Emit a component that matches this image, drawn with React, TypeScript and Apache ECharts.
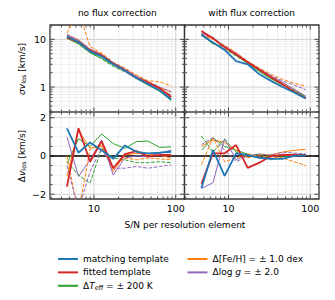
import React, { useEffect, useRef } from 'react';
import * as echarts from 'echarts';

// S/N per resolution element (x positions of samples)
const SN = [4.67, 6.47, 8.97, 12.4, 17.2, 23.9, 33.1, 45.8, 63.5, 88.0];

// sigma v_los, no flux correction
const sigNoMatch = [11.5, 8.8, 5.6, 4.4, 3.0, 2.2, 1.55, 1.15, 0.85, 0.55];
const sigNoFitted = [11.0, 8.7, 5.8, 4.6, 3.1, 2.2, 1.55, 1.25, 0.95, 0.62];
const sigNoTeffP = [10.5, 8.0, 5.2, 4.0, 2.9, 2.2, 1.5, 1.1, 0.82, 0.52];
const sigNoTeffM = [11.2, 8.4, 5.5, 3.9, 2.7, 2.1, 1.55, 1.15, 0.85, 0.6];
const sigNoFehP = [12.5, 9.8, 6.2, 4.9, 3.2, 2.4, 1.7, 1.3, 0.98, 0.78];
const sigNoFehM = [13.5, 40.0, 7.0, 5.2, 3.3, 2.5, 1.8, 1.35, 1.3, 1.05];
const sigNoLoggP = [12.0, 9.3, 6.0, 4.7, 3.2, 2.3, 1.6, 1.25, 0.9, 0.68];
const sigNoLoggM = [12.8, 9.6, 6.3, 4.8, 3.3, 2.4, 1.7, 1.3, 1.0, 0.8];

// sigma v_los, with flux correction
const sigWfMatch = [12.3, 8.6, 6.0, 3.5, 3.0, 1.85, 1.35, 1.0, 0.77, 0.58];
const sigWfFitted = [15.0, 10.5, 6.8, 4.8, 3.3, 2.3, 1.6, 1.15, 0.8, 0.58];
const sigWfTeffP = [12.5, 8.0, 7.0, 4.6, 3.1, 2.1, 1.5, 1.1, 0.82, 0.6];
const sigWfTeffM = [13.0, 8.6, 6.3, 4.5, 3.2, 2.2, 1.55, 1.15, 0.85, 0.62];
const sigWfFehP = [12.5, 10.5, 7.2, 5.0, 3.4, 2.4, 1.7, 1.25, 0.9, 0.62];
const sigWfFehM = [12.0, 10.0, 7.5, 5.3, 3.5, 2.5, 1.85, 1.45, 1.2, 1.05];
const sigWfLoggP = [13.5, 11.0, 7.0, 4.9, 3.3, 2.3, 1.65, 1.25, 0.9, 0.65];
const sigWfLoggM = [12.8, 10.8, 7.2, 5.1, 3.4, 2.4, 1.75, 1.35, 1.1, 0.88];

// delta v_los, no flux correction
const dvNoMatch = [1.44, 0.17, 0.71, 0.3, -0.15, 0.55, 0.22, 0.14, 0.17, 0.22];
const dvNoFitted = [-1.6, 1.45, -0.3, 0.78, -0.64, 0.1, 0.26, -0.03, 0.05, 0.05];
const dvNoTeffP = [-0.4, 0.9, 0.5, 1.15, 0.65, 0.4, 0.75, 0.78, 0.45, 0.48];
const dvNoTeffM = [-0.3, -1.0, -1.42, 0.4, -0.1, -0.2, -0.35, -0.35, -0.3, -0.35];
const dvNoFehP = [-1.07, 1.35, 0.4, 0.57, -0.81, 0.05, 0.14, 0.1, 0.05, -0.12];
const dvNoFehM = [0.0, -3.0, 0.4, 0.5, -0.6, -0.1, -0.2, -0.1, -0.15, -0.2];
const dvNoLoggP = [1.0, -1.07, -0.2, 0.83, -1.0, -0.1, 0.0, -0.03, 0.14, 0.31];
const dvNoLoggM = [-0.5, -2.8, -0.8, 0.4, -0.64, -0.64, -0.55, -0.64, -0.55, -0.47];

// delta v_los, with flux correction
const dvWfMatch = [-1.68, 0.31, -1.04, 0.14, 0.05, -0.1, -0.15, -0.15, 0.0, 0.05];
const dvWfFitted = [-1.45, 0.14, 0.14, 0.57, -0.62, -0.35, 0.0, 0.05, 0.05, 0.05];
const dvWfTeffP = [0.3, 0.95, 0.5, 0.3, 0.1, -0.1, 0.05, 0.0, 0.1, 0.05];
const dvWfTeffM = [1.05, 0.2, 0.88, 0.2, 0.0, 0.1, -0.2, -0.05, 0.0, 0.1];
const dvWfFehP = [0.5, 0.85, 0.7, 0.3, -0.1, 0.1, 0.05, 0.2, 0.3, 0.35];
const dvWfFehM = [-0.45, 0.95, -0.3, -0.1, 0.1, 0.0, -0.05, -0.1, -0.3, -0.5];
const dvWfLoggP = [-1.7, -1.4, 0.9, -0.2, 0.1, -0.1, -0.05, 0.1, 0.0, 0.1];
const dvWfLoggM = [0.6, 0.95, 0.3, -0.3, 0.0, 0.1, 0.05, 0.2, 0.15, 0.1];

// ticks
const xMajor = [10, 100];
const xMinor = [3, 4, 5, 6, 7, 8, 9, 20, 30, 40, 50, 60, 70, 80, 90];
const sigMajor = [1, 10];
const sigMinor = [0.3, 0.4, 0.5, 0.6, 0.7, 0.8, 0.9, 2, 3, 4, 5, 6, 7, 8, 9];
const dvMajor = [-2, 0, 2];
const dvMinor = [-1.5, -1, -0.5, 0.5, 1, 1.5];

const NAMES = ['matching template', 'fitted template', 'dTeff', 'dFeH', 'dlogg'];
const COLORS = ['#1f77b4', '#d62728', '#2ca02c', '#ff7f0e', '#9467bd'];

const FONT = 'DejaVu Sans';

const fmt = (v: number) => (v < 0 ? '\u2212' + Math.abs(v) : String(v));

function lineSeries(name: string, gi: number, vals: number[], color: string, width: number, dashed: boolean, z: number) {
  return {
    type: 'line',
    name,
    xAxisIndex: gi,
    yAxisIndex: gi,
    data: SN.map((x, i) => [x, vals[i]]),
    symbol: 'none',
    showSymbol: false,
    z,
    clip: true,
    lineStyle: { color, width, type: dashed ? [3.7, 1.6] : 'solid' },
    itemStyle: { color },
  };
}

function axisSeries(gi: number, xDummy: number, yDummy: number, yMaj: number[], yMin: number[], showX: boolean, showY: boolean, zeroLine: boolean) {
  const data: number[][] = [];
  xMajor.forEach((v) => data.push([v, yDummy, 0, 1, 0]));
  xMinor.forEach((v) => data.push([v, yDummy, 0, 0, 0]));
  yMaj.forEach((v) => data.push([xDummy, v, 1, 1, 0]));
  yMin.forEach((v) => data.push([xDummy, v, 1, 0, 0]));
  if (zeroLine) data.push([xDummy, 0, 1, 1, 1]);
  return {
    type: 'custom',
    xAxisIndex: gi,
    yAxisIndex: gi,
    z: 1,
    silent: true,
    data,
    renderItem: (params: any, api: any) => {
      const cs = params.coordSys;
      const xv = api.value(0);
      const yv = api.value(1);
      const dir = api.value(2);
      const major = api.value(3) === 1;
      const zero = api.value(4) === 1;
      const p = api.coord([xv, yv]);
      const children: any[] = [];
      const L = major ? 4.5 : 2.5;
      const ts = { stroke: '#222', lineWidth: 0.8 };
      const gs = { stroke: major ? '#c4c4c4' : '#e6e6e6', lineWidth: major ? 0.8 : 0.6 };
      const left = cs.x, right = cs.x + cs.width, top = cs.y, bottom = cs.y + cs.height;
      if (zero) {
        children.push({ type: 'line', z2: 5, shape: { x1: left, y1: p[1], x2: right, y2: p[1] }, style: { stroke: '#000', lineWidth: 1.4 } });
        return { type: 'group', children };
      }
      if (dir === 0) {
        const x = p[0];
        children.push({ type: 'line', shape: { x1: x, y1: top, x2: x, y2: bottom }, style: gs });
        children.push({ type: 'line', shape: { x1: x, y1: bottom, x2: x, y2: bottom - L }, style: ts });
        children.push({ type: 'line', shape: { x1: x, y1: top, x2: x, y2: top + L }, style: ts });
        if (showX && major) {
          children.push({
            type: 'text',
            style: { text: fmt(xv), x, y: bottom + 4, align: 'center', verticalAlign: 'top', textAlign: 'center', textVerticalAlign: 'top', fontSize: 9.5, fontFamily: FONT, fill: '#000' },
          });
        }
      } else {
        const y = p[1];
        children.push({ type: 'line', shape: { x1: left, y1: y, x2: right, y2: y }, style: gs });
        children.push({ type: 'line', shape: { x1: left, y1: y, x2: left + L, y2: y }, style: ts });
        children.push({ type: 'line', shape: { x1: right, y1: y, x2: right - L, y2: y }, style: ts });
        if (showY && major) {
          children.push({
            type: 'text',
            style: { text: fmt(yv), x: left - 4, y, align: 'right', verticalAlign: 'middle', textAlign: 'right', textVerticalAlign: 'middle', fontSize: 9.5, fontFamily: FONT, fill: '#000' },
          });
        }
      }
      return { type: 'group', children };
    },
  };
}

const richStyles = {
  r: { fontSize: 9, fontFamily: FONT, lineHeight: 11, color: '#000' },
  i: { fontSize: 9, fontFamily: FONT, fontStyle: 'italic', lineHeight: 11, color: '#000' },
  s: { fontSize: 6.5, fontFamily: FONT, lineHeight: 5, verticalAlign: 'bottom', color: '#000' },
};

const legendRich = {
  r: { fontSize: 9, fontFamily: FONT, lineHeight: 9, color: '#000' },
  i: { fontSize: 9, fontFamily: FONT, fontStyle: 'italic', lineHeight: 9, color: '#000' },
  s: { fontSize: 6.5, fontFamily: FONT, lineHeight: 4, verticalAlign: 'bottom', padding: [0, 0, -1.5, 0], color: '#000' },
};

const legendLabel: Record<string, string> = {
  'matching template': '{r|matching template}',
  'fitted template': '{r|fitted template}',
  dTeff: '{r|\u0394}{i|T}{s|eff}{r| = \u00b1 200 K}',
  dFeH: '{r|\u0394[Fe/H] = \u00b1 1.0 dex}',
  dlogg: '{r|\u0394log }{i|g}{r| = \u00b1 2.0}',
};

export default function App() {
  const ref = useRef<HTMLDivElement>(null);
  useEffect(() => {
    if (!ref.current) return;
    const chart = echarts.init(ref.current, undefined, { renderer: 'svg' });
    const GL = [50, 184.5];
    const GT = [25, 112];
    const GW = 134.5;
    const GH = 87;
    const grids = [
      { left: GL[0], top: GT[0] },
      { left: GL[1], top: GT[0] },
      { left: GL[0], top: GT[1] },
      { left: GL[1], top: GT[1] },
    ].map((g) => ({ ...g, width: GW, height: GH, show: true, borderColor: '#333', borderWidth: 1.3, backgroundColor: 'transparent', containLabel: false }));

    const hidden = { axisLine: { show: false }, axisTick: { show: false }, axisLabel: { show: false }, splitLine: { show: false }, minorTick: { show: false } };
    const xAxis = [0, 1, 2, 3].map((i) => ({ type: 'log', logBase: 10, gridIndex: i, min: 2.9, max: 128, ...hidden }));
    const yAxis = [0, 1, 2, 3].map((i) =>
      i < 2
        ? { type: 'log', logBase: 10, gridIndex: i, min: 0.3, max: 20, ...hidden }
        : { type: 'value', gridIndex: i, min: -2.25, max: 2.3, ...hidden }
    );

    const sets = [
      [sigNoMatch, sigNoFitted, sigNoTeffP, sigNoTeffM, sigNoFehP, sigNoFehM, sigNoLoggP, sigNoLoggM],
      [sigWfMatch, sigWfFitted, sigWfTeffP, sigWfTeffM, sigWfFehP, sigWfFehM, sigWfLoggP, sigWfLoggM],
      [dvNoMatch, dvNoFitted, dvNoTeffP, dvNoTeffM, dvNoFehP, dvNoFehM, dvNoLoggP, dvNoLoggM],
      [dvWfMatch, dvWfFitted, dvWfTeffP, dvWfTeffM, dvWfFehP, dvWfFehM, dvWfLoggP, dvWfLoggM],
    ];
    const series: any[] = [];
    sets.forEach((s, gi) => {
      series.push(lineSeries(NAMES[0], gi, s[0], COLORS[0], 1.8, false, 6));
      series.push(lineSeries(NAMES[1], gi, s[1], COLORS[1], 1.8, false, 5));
      series.push(lineSeries(NAMES[2], gi, s[2], COLORS[2], 1, false, 3));
      series.push(lineSeries(NAMES[3], gi, s[4], COLORS[3], 1, false, 3));
      series.push(lineSeries(NAMES[4], gi, s[6], COLORS[4], 1, false, 3));
    });
    sets.forEach((s, gi) => {
      series.push(lineSeries(NAMES[2], gi, s[3], COLORS[2], 1, true, 3));
      series.push(lineSeries(NAMES[3], gi, s[5], COLORS[3], 1, true, 3));
      series.push(lineSeries(NAMES[4], gi, s[7], COLORS[4], 1, true, 3));
    });
    series.push(axisSeries(0, 10, 1, sigMajor, sigMinor, false, true, false));
    series.push(axisSeries(1, 10, 1, sigMajor, sigMinor, false, false, false));
    series.push(axisSeries(2, 10, 0, dvMajor, dvMinor, true, true, true));
    series.push(axisSeries(3, 10, 0, dvMajor, dvMinor, true, false, true));

    const legendCommon = {
      orient: 'vertical',
      padding: 0,
      icon: 'rect',
      itemWidth: 20,
      itemHeight: 2,
      itemGap: 4.4,
      selectedMode: false,
      textStyle: { fontSize: 9, fontFamily: FONT, color: '#000', lineHeight: 9, rich: legendRich },
      formatter: (name: string) => legendLabel[name] || name,
    };

    chart.setOption({
      animation: false,
      backgroundColor: '#fff',
      textStyle: { fontFamily: FONT },
      grid: grids,
      xAxis,
      yAxis,
      series,
      legend: [
        { ...legendCommon, data: NAMES.slice(0, 3), left: 58, top: 254.5 },
        { ...legendCommon, data: NAMES.slice(3), left: 187.5, top: 254.5 },
      ],
      graphic: [
        { type: 'text', x: 117.3, y: 13, style: { text: 'no flux correction', align: 'center', verticalAlign: 'middle', textAlign: 'center', textVerticalAlign: 'middle', fontSize: 9, fontFamily: FONT, fill: '#000' } },
        { type: 'text', x: 251.7, y: 13, style: { text: 'with flux correction', align: 'center', verticalAlign: 'middle', textAlign: 'center', textVerticalAlign: 'middle', fontSize: 9, fontFamily: FONT, fill: '#000' } },
        { type: 'text', x: 185, y: 224.5, style: { text: 'S/N per resolution element', align: 'center', verticalAlign: 'middle', textAlign: 'center', textVerticalAlign: 'middle', fontSize: 9, fontFamily: FONT, fill: '#000' } },
        { type: 'text', x: 22, y: 69, rotation: Math.PI / 2, style: { text: '{i|\u03c3v}{s|los}{r| [km/s]}', rich: richStyles, align: 'center', verticalAlign: 'middle', textAlign: 'center', textVerticalAlign: 'middle', fontSize: 9, fontFamily: FONT, fill: '#000' } },
        { type: 'text', x: 22, y: 156, rotation: Math.PI / 2, style: { text: '{r|\u0394}{i|v}{s|los}{r| [km/s]}', rich: richStyles, align: 'center', verticalAlign: 'middle', textAlign: 'center', textVerticalAlign: 'middle', fontSize: 9, fontFamily: FONT, fill: '#000' } },
      ],
    });
    return () => chart.dispose();
  }, []);
  return <div ref={ref} style={{ position: 'fixed', left: 0, top: 0, width: 335, height: 300 }} />;
}
